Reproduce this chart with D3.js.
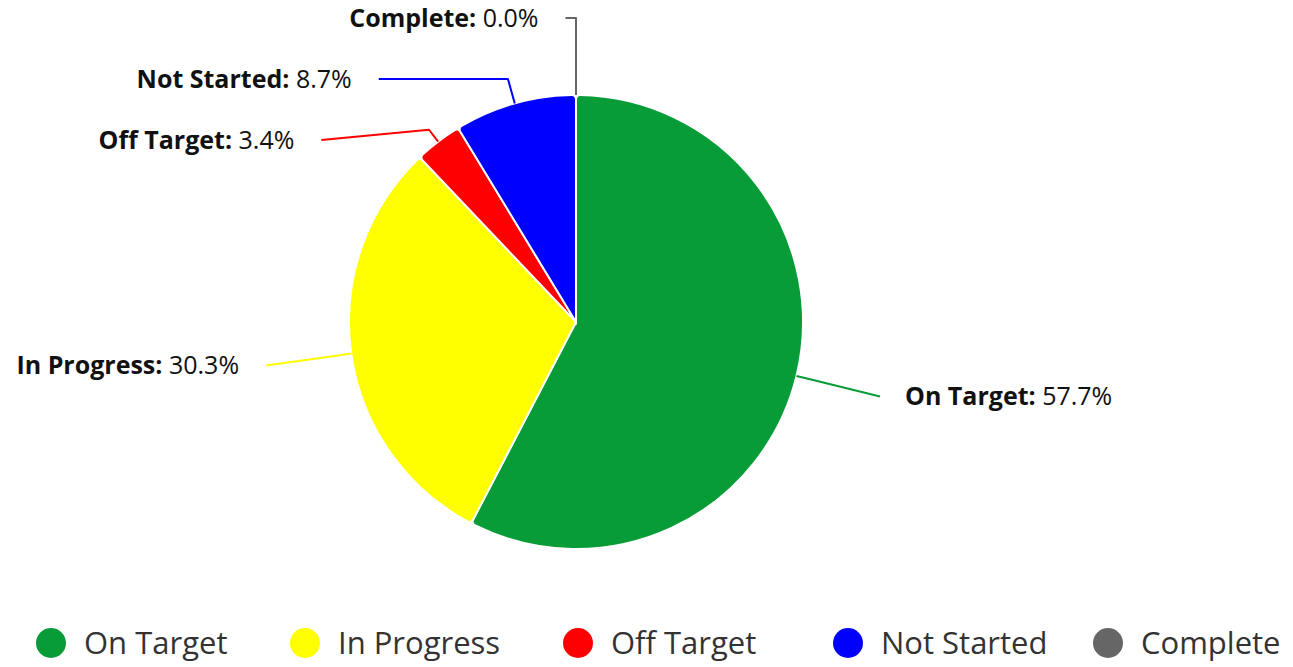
<!DOCTYPE html>
<html lang="en">
<head>
  <meta charset="UTF-8">
  <title>Status pie</title>
  <script src="https://d3js.org/d3.v7.min.js"></script>
  <style>
    * { margin: 0; padding: 0; box-sizing: border-box; }
    body { background: #fff; font-family: "Open Sans", sans-serif; }
  </style>
</head>
<body>
  <div id="chart"></div>
  <script>
    // data
    const categories = ["On Target", "In Progress", "Off Target", "Not Started", "Complete"];
    const percents = [57.7, 30.3, 3.4, 8.7, 0.0];
    const colors = ["#079c37", "#ffff00", "#ff0000", "#0000ff", "#666666"];

    const W = 1293, H = 667;
    const cx = 576, cy = 322, r = 227;
    const labelR = 313, labelGap = 61, labelTop = 18;

    const svg = d3.select("#chart").append("svg")
      .attr("width", W).attr("height", H);

    const pie = d3.pie().sort(null).value(d => d.value);
    const data = categories.map((c, i) => ({name: c, value: percents[i], color: colors[i]}));
    const arcs = pie(data);

    const arc = d3.arc().innerRadius(0).outerRadius(r).cornerRadius(4);

    const g = svg.append("g").attr("transform", `translate(${cx},${cy})`);

    g.selectAll("path.slice")
      .data(arcs.filter(d => d.value > 0))
      .enter().append("path")
      .attr("class", "slice")
      .attr("d", arc)
      .attr("fill", d => d.data.color)
      .attr("stroke", "#fff")
      .attr("stroke-width", 2);

    // label layout (highcharts-like: labels on a circle, pushed apart, crooked connectors)
    const pt = (a, rad) => [Math.sin(a) * rad, -Math.cos(a) * rad];
    const labels = arcs.map(d => {
      const mid = (d.startAngle + d.endAngle) / 2;
      const left = Math.sin(mid) < 0 || mid >= Math.PI * 2 - 1e-6;
      return {d, mid, left, y: -Math.cos(mid) * labelR};
    });

    [true, false].forEach(side => {
      const list = labels.filter(l => l.left === side).sort((a, b) => a.y - b.y);
      let minY = labelTop - cy;
      list.forEach(l => {
        l.y = Math.max(l.y, minY);
        minY = l.y + labelGap;
      });
    });

    const nudge = {"Complete": 64};

    labels.forEach(l => {
      let x = Math.sqrt(Math.max(0, labelR * labelR - l.y * l.y)) * (l.left ? -1 : 1);
      if (nudge[l.d.data.name]) x += nudge[l.d.data.name];
      l.x = x;
      const T = pt(l.mid, r);
      const B = pt(l.mid, r + 15);
      const c = -Math.cos(l.mid);
      const crookX = Math.abs(c) > 1e-6 ? (l.y / c) * Math.sin(l.mid) : B[0];
      const pts = [[l.x, l.y]];
      const lo = Math.min(l.x, B[0]), hi = Math.max(l.x, B[0]);
      if (crookX >= lo && crookX <= hi) pts.push([crookX, l.y]);
      pts.push(B, T);

      g.append("path")
        .attr("d", d3.line()(pts))
        .attr("fill", "none")
        .attr("stroke", l.d.data.color)
        .attr("stroke-width", 2)
        .attr("stroke-linejoin", "round");

      const t = g.append("text")
        .attr("x", l.left ? l.x - 27 : l.x + 25)
        .attr("y", l.y)
        .attr("dy", "0.35em")
        .attr("text-anchor", l.left ? "end" : "start")
        .style("font-size", "25px")
        .style("fill", "#111");
      t.append("tspan").style("font-weight", "bold").text(l.d.data.name + ":");
      t.append("tspan").text(" " + d3.format(".1f")(l.d.data.value) + "%");
    });

    // legend
    const legendX = [51, 305, 578, 848, 1108];
    const legend = svg.append("g").attr("transform", "translate(0,643)");
    const item = legend.selectAll("g.item")
      .data(data).enter().append("g")
      .attr("class", "item")
      .attr("transform", (d, i) => `translate(${legendX[i]},0)`);
    item.append("circle").attr("r", 15).attr("fill", d => d.color);
    item.append("text")
      .attr("x", 33)
      .attr("dy", "0.35em")
      .style("font-size", "31px")
      .style("fill", "#333")
      .text(d => d.name);
  </script>
</body>
</html>
